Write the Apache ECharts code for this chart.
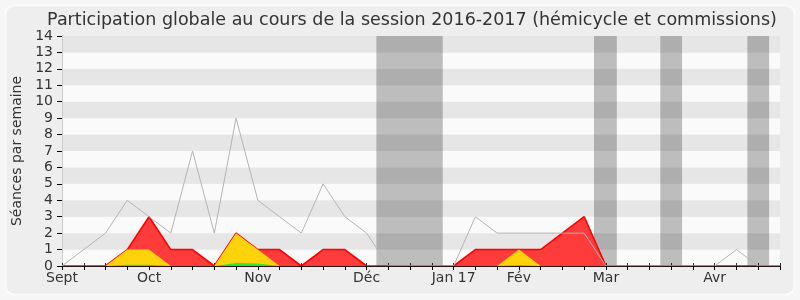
<!DOCTYPE html>
<html><head><meta charset="utf-8">
<script src="https://cdn.jsdelivr.net/npm/echarts@6/dist/echarts.min.js"></script>
<style>html,body{margin:0;padding:0;background:#f6f6f6}#c{width:800px;height:300px}</style>
</head><body><div id="c"></div>
<script>
const titleText = 'Participation globale au cours de la session 2016-2017 (hémicycle et commissions)';
const yAxisName = 'Séances par semaine';
// one entry per week; month label on the week where it is shown
const weekLabels = ['Sept','','','','Oct','','','','','Nov','','','','','Déc','','','','Jan 17','','','Fév','','','','Mar','','','','','Avr','','',''];
// grey line: total sittings in the week
const totalSeances = [0,1,2,4,3,2,7,2,9,4,3,2,5,3,2,0,0,0,0,3,2,2,2,2,2,0,0,0,0,0,0,1,0,0];
// red area: detected presences
const presences = [0,0,0,1,3,1,1,0,2,1,1,0,1,1,0,0,0,0,0,1,1,1,1,2,3,0,0,0,0,0,0,0,0,0];
// yellow area
const participations = [0,0,0,1,1,0,0,0,2,1,0,0,0,0,0,0,0,0,0,0,0,1,0,0,0,0,0,0,0,0,0,0,0,0];
// green area
const interventions = [0,0,0,0.07,0.07,0,0,0,0.18,0.15,0,0,0,0,0,0,0,0,0,0,0,0.06,0,0,0,0,0,0,0,0,0,0,0,0];
// holiday weeks (in week units)
const vacances = [[14.45,17.5],[24.45,25.5],[27.5,28.5],[31.5,32.5]];

const font = 'DejaVu Sans';
const pts = arr => arr.map((v,i)=>[i,v]);
const chart = echarts.init(document.getElementById('c'), null, {renderer:'canvas'});
const lastWeek = weekLabels.length - 1;
chart.setOption({
  animation:false,
  backgroundColor:'transparent',
  graphic:[
    {type:'rect', z:-10, silent:true, shape:{x:5.5,y:5.5,width:789,height:289,r:9}, style:{fill:'#eeeeee', stroke:'#fcfcfc', lineWidth:1.5}},
    {type:'text', z:10, silent:true, x:412, y:20, style:{text:titleText, font:'17.5px "DejaVu Sans"', fill:'#333333', textAlign:'center', textVerticalAlign:'middle'}}
  ],
  grid:{left:62, right:20, top:36, bottom:34},
  xAxis:[
    {type:'value', min:0, max:lastWeek, interval:1, position:'bottom', z:10,
     axisLine:{show:true, lineStyle:{color:'#2a1010', width:1}},
     axisTick:{show:true, length:4, lineStyle:{color:'#000'}},
     axisLabel:{formatter:v=>weekLabels[v]||'', fontFamily:font, fontSize:14, color:'#333', margin:5, showMinLabel:true, showMaxLabel:true},
     splitLine:{show:false}, splitArea:{show:false}},
    {type:'value', min:0, max:lastWeek, interval:1, position:'top',
     axisLine:{show:false}, axisTick:{show:true, length:3, lineStyle:{color:'#333'}},
     axisLabel:{show:false}, splitLine:{show:false}}
  ],
  yAxis:[
    {type:'value', min:0, max:14, interval:1,
     axisLine:{show:true, lineStyle:{color:'#000'}},
     axisTick:{show:true, length:5, lineStyle:{color:'#000'}},
     axisLabel:{fontFamily:font, fontSize:14, color:'#333', margin:9},
     splitLine:{show:false},
     splitArea:{show:true, areaStyle:{color:['#fafafa','#e6e6e6']}},
     name:yAxisName, nameLocation:'middle', nameGap:37,
     nameTextStyle:{fontFamily:font, fontSize:14, color:'#333'}},
    {type:'value', min:0, max:14, interval:1, position:'right',
     axisLine:{show:true, lineStyle:{color:'#cccccc'}}, axisTick:{show:false}, axisLabel:{show:false}, splitLine:{show:false}}
  ],
  series:[
    {type:'line', name:'Présences', data:pts(presences), symbol:'none', z:2,
     lineStyle:{color:'#ff0000', width:1.6}, areaStyle:{color:'#ff3c3c', opacity:1}},
    {type:'line', name:'Participations', data:pts(participations), symbol:'none', z:3,
     lineStyle:{width:0}, areaStyle:{color:'#ffd30c', opacity:1}},
    {type:'line', name:'Interventions', data:pts(interventions), symbol:'none', z:4,
     lineStyle:{width:0}, areaStyle:{color:'#2ee62e', opacity:1}},
    {type:'line', name:'Séances', data:pts(totalSeances), symbol:'none', z:5,
     lineStyle:{color:'#b4b4b4', width:1}},
    {type:'line', name:'Vacances', data:[], z:6, silent:true,
     markArea:{silent:true, itemStyle:{color:'rgba(0,0,0,0.245)'},
       data:vacances.map(v=>[{xAxis:v[0]},{xAxis:v[1]}])}}
  ]
});
</script></body></html>
